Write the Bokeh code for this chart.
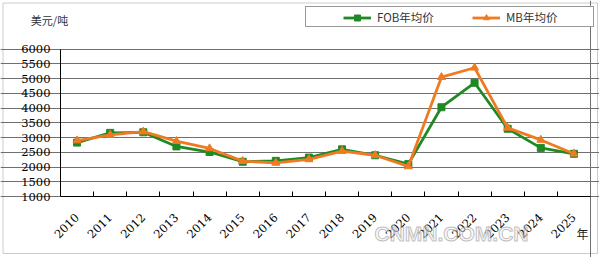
import math
from bokeh.plotting import figure
from bokeh.models import Range1d, FixedTicker, Legend, LegendItem, Label, BoxAnnotation
from bokeh.embed import file_html
from bokeh.resources import INLINE

years = [str(y) for y in range(2010, 2026)]
fob = [2830, 3160, 3180, 2700, 2510, 2180, 2210, 2320, 2600, 2400, 2100, 4030, 4860, 3300, 2650, 2450]
mb = [2900, 3090, 3200, 2880, 2630, 2200, 2140, 2260, 2540, 2400, 2020, 5050, 5370, 3330, 2920, 2450]
y_ticks = list(range(1000, 6001, 500))
series_names = ["FOB年均价", "MB年均价"]
y_unit = "美元/吨"
x_unit = "年"
watermark = "CNMN.COM.CN"

n = len(years)
x = [i + 0.5 for i in range(n)]
boundaries = list(range(1, n))

GREEN = "#1f8a24"
ORANGE = "#f07a22"
SERIF = "DejaVu Serif"
CJK = "Noto Sans CJK SC"

# canvas / plot-area layout in pixels
W, H = 599, 257
PL, PR, PT, PB = 60, 590, 48.7, 196
ymin, ymax = y_ticks[0], y_ticks[-1]
xu = (PR - PL) / n
yu = (ymax - ymin) / (PB - PT)
x_range = Range1d(-PL / xu, n + (W - PR) / xu)
y_range = Range1d(ymin - (H - PB) * yu, ymax + PT * yu)

p = figure(width=W, height=H, output_backend="svg", toolbar_location=None,
           x_range=x_range, y_range=y_range,
           min_border=0)
p.outline_line_color = None

# y axis
p.yaxis.fixed_location = 0
p.yaxis.bounds = (ymin, ymax)
p.yaxis.ticker = FixedTicker(ticks=y_ticks)
p.yaxis.major_tick_in = 0
p.yaxis.major_tick_out = 0
p.yaxis.minor_tick_in = 0
p.yaxis.minor_tick_out = 0
p.yaxis.axis_line_color = "black"
p.yaxis.major_label_text_font = SERIF
p.yaxis.major_label_text_font_size = "11.5px"
p.yaxis.major_label_text_color = "black"
p.yaxis.major_label_standoff = 10
p.ygrid.ticker = FixedTicker(ticks=y_ticks)
p.ygrid.bounds = (0, n)
p.ygrid.grid_line_color = "#707070"
p.ygrid.grid_line_width = 1
p.xgrid.ticker = FixedTicker(ticks=[n])
p.xgrid.bounds = (ymin, ymax)
p.xgrid.grid_line_color = "#707070"
p.xgrid.grid_line_width = 1

# x axis
p.xaxis.fixed_location = ymin
p.xaxis.bounds = (0, n)
p.xaxis.ticker = FixedTicker(ticks=x, minor_ticks=boundaries)
p.xaxis.major_label_overrides = {xi: yr for xi, yr in zip(x, years)}
p.xaxis.major_tick_in = 0
p.xaxis.major_tick_out = 0
p.xaxis.minor_tick_in = 5
p.xaxis.minor_tick_out = 0
p.xaxis.minor_tick_line_color = "black"
p.xaxis.axis_line_color = "black"
p.xaxis.major_label_orientation = math.pi / 4
p.xaxis.major_label_text_font = SERIF
p.xaxis.major_label_text_font_size = "11.5px"
p.xaxis.major_label_text_color = "black"
p.xaxis.major_label_standoff = 19

# series
gl = p.line(x, fob, line_color=GREEN, line_width=2.8)
gs = p.scatter(x, fob, marker="square", size=7, fill_color=GREEN, line_color=GREEN)
ol = p.line(x, mb, line_color=ORANGE, line_width=2.8)
os_ = p.scatter(x, mb, marker="triangle", size=8, fill_color=ORANGE, line_color=ORANGE)

# outer frame
p.add_layout(BoxAnnotation(left=2.5, right=597, bottom=4, top=254.5,
                           left_units="screen", right_units="screen",
                           bottom_units="screen", top_units="screen",
                           fill_alpha=0, line_color="#555555", line_width=1))

# legend box (frame only)
dummy = p.scatter([x[0]], [fob[0]], size=1, alpha=0)
box = Legend(items=[LegendItem(label=" ", renderers=[dummy])],
             location=(305, H - 27), orientation="horizontal",
             padding=2, margin=0, spacing=0,
             glyph_width=20, glyph_height=15, label_height=15, label_standoff=5,
             label_width=258, label_text_font_size="11px",
             border_line_color="#333333", border_line_width=1,
             background_fill_color="white", background_fill_alpha=1)
p.add_layout(box)

leg = Legend(items=[LegendItem(label=series_names[0], renderers=[gl, gs]),
                    LegendItem(label=series_names[1], renderers=[ol, os_])],
             location=(341, H - 27), orientation="horizontal",
             padding=2, margin=0, spacing=0,
             glyph_width=28, glyph_height=15, label_height=15, label_standoff=6,
             label_width=95, label_text_font=CJK, label_text_font_size="11.5px",
             label_text_color="#333333",
             border_line_alpha=0, background_fill_alpha=0)
p.add_layout(leg)

p.add_layout(Label(x=49, y=H - 19, x_units="screen", y_units="screen", text=y_unit,
                   text_align="center", text_baseline="middle",
                   text_font=CJK, text_font_size="11px", text_color="#333333"))
p.add_layout(Label(x=582, y=H - 233, x_units="screen", y_units="screen", text=x_unit,
                   text_align="center", text_baseline="middle",
                   text_font=CJK, text_font_size="12px", text_color="#222222"))
p.add_layout(Label(x=451, y=H - 233, x_units="screen", y_units="screen", text=watermark,
                   text_align="center", text_baseline="middle",
                   text_font="Liberation Sans", text_font_style="bold",
                   text_font_size="21px", text_color="#f2f2f2", text_alpha=0.55,
                   text_outline_color="#8c8c8c"))

open("out.html", "w").write(file_html(p, INLINE))
